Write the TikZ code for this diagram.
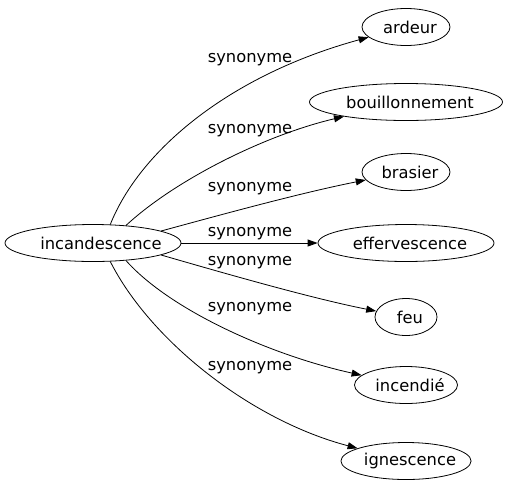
\documentclass[tikz,border=0pt]{standalone}
\usepackage{fontspec}
\setmainfont{DejaVu Sans}
\usetikzlibrary{shapes.geometric,arrows.meta}

\tikzset{
    syn/.style={draw, ellipse, line width=0.8pt, inner ysep=0pt, minimum height=37pt,
        inner xsep=-#1/2, execute at begin node={\hspace*{#1}}},
    syn/.default=8pt,
    lbl/.style={inner sep=0pt},
    edge/.style={line width=0.8pt, -{Triangle[length=10pt,width=7pt]}}
}

\begin{document}
\begin{tikzpicture}[x=1pt,y=-1pt,font=\fontsize{16.3}{19}\selectfont]
                    \useasboundingbox (0,0) rectangle (505,491);
                    \node[syn=16pt, minimum width=176pt] (inc) at (93,243) {incandescence};

                    \node[syn, minimum width=88pt]  (ardeur)  at (406,27)  {ardeur};
                    \node[syn, minimum width=193pt] (bouill)  at (406,102) {bouillonnement};
                    \node[syn, minimum width=88pt]  (brasier) at (406,172) {brasier};
                    \node[syn, minimum width=176pt] (efferv)  at (406,243) {effervescence};
                    \node[syn, minimum width=62pt]  (feu)     at (406,317) {feu};
                    \node[syn, minimum width=103pt] (incend)  at (406,385) {incendié};
                    \node[syn, minimum width=112pt] (ignesc)  at (406,461) {ignescence};

                    \draw[edge] (inc.47) .. controls (140,150) and (230,75) .. (ardeur);
                    \draw[edge] (inc.28) .. controls (175,180) and (265,135) .. (bouill);
                    \draw[edge] (inc.10) .. controls (220,215) and (300,193) .. (brasier);
                    \draw[edge] (inc) -- (efferv);
                    \draw[edge] (inc.-10) .. controls (220,272) and (310,298) .. (feu);
                    \draw[edge] (inc.-28) .. controls (170,310) and (270,355) .. (incend);
                    \draw[edge] (inc.-47) .. controls (150,340) and (250,420) .. (ignesc);

                    \node[lbl] (s1) at (250,60)  {synonyme};
                    \node[lbl] (s2) at (250,131) {synonyme};
                    \node[lbl] (s3) at (250,189) {synonyme};
                    \node[lbl] (s4) at (250,234) {synonyme};
                    \node[lbl] (s5) at (250,263) {synonyme};
                    \node[lbl] (s6) at (250,309) {synonyme};
                    \node[lbl] (s7) at (250,368) {synonyme};
                \end{tikzpicture}
\end{document}
